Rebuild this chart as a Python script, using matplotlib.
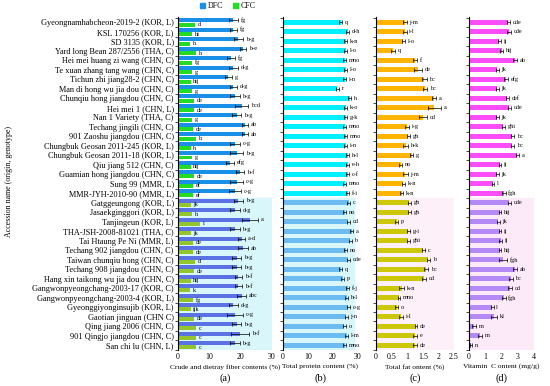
import numpy as np
import matplotlib
matplotlib.use('Agg')
import matplotlib.pyplot as plt
from matplotlib.patches import Patch

plt.rcParams['font.family'] = ['Liberation Serif', 'DejaVu Serif']

names = ['Gyeongnamhabcheon-2019-2 (KOR, L)', 'KSL 170256 (KOR, L)', 'SD 3135 (KOR, L)',
         'Yard long Bean 287/2556 (THA, C)', 'Hei mei huang zi wang (CHN, C)',
         'Te xuan zhang tang wang (CHN, C)', 'Tichun zhi jiang28-2 (CHN, C)',
         'Man di hong wu jia dou (CHN, C)', 'Chunqiu hong jiangdou (CHN, C)', 'Hei mei 1 (CHN, L)',
         'Nan 1 Variety (THA, C)', 'Techang jingili (CHN, C)', '901 Zaoshu jiangdou (CHN, C)',
         'Chungbuk Geosan 2011-245 (KOR, L)', 'Chungbuk Geosan 2011-18 (KOR, L)',
         'Qiu jiang 512 (CHN, C)', 'Guamian hong jiangdou (CHN, C)', 'Sung 99 (MMR, L)',
         'MMR-JYH-2010-90 (MMR, L)', 'Gatggeungong (KOR, L)', 'Jasaekginggori (KOR, L)',
         'Tanjingeun (KOR, L)', 'THA-JSH-2008-81021 (THA, C)', 'Tai Htaung Pe Ni (MMR, L)',
         'Techang 902 jiangdou (CHN, C)', 'Taiwan chunqiu hong (CHN, C)',
         'Techang 908 jiangdou (CHN, C)', 'Hang xin taikong wu jia dou (CHN, C)',
         'Gangwonpyeongchang-2003-17 (KOR, C)', 'Gangwonpyeongchang-2003-4 (KOR, L)',
         'Gyeonggiyonginsujib (KOR, L)', 'Gaotian jinguan (CHN C)', 'Qing jiang 2006 (CHN, C)',
         '901 Qingjo jiangdou (CHN, C)', 'San chi lu (CHN, L)']

dfc = [17.7, 17.7, 19.3, 20.7, 16.9, 17.7, 16.1, 17.7, 18.2, 20.3, 18.7, 21.4, 21.4, 18.2, 18.7,
       16.6, 19.8, 18.7, 18.2, 19.3, 18.2, 23.0, 18.2, 20.3, 20.8, 18.7, 18.7, 19.3, 19.3, 20.3,
       17.7, 18.2, 18.7, 19.8, 18.2]
dfc_err = [1.5, 1.2, 1.5, 1.0, 1.2, 1.5, 1.0, 1.2, 1.5, 2.0, 1.5, 1.0, 1.0, 1.5, 2.0,
           1.2, 1.2, 2.0, 2.0, 1.5, 1.5, 2.5, 1.5, 1.2, 1.5, 1.5, 1.5, 1.2, 1.2, 1.5,
           1.5, 2.5, 1.5, 3.0, 1.5]
dfc_let = ['fg', 'fg', 'b-g', 'b-e', 'fg', 'd-g', 'g', 'd-g', 'b-g', 'bcd', 'b-g', 'ab', 'ab',
           'c-g', 'b-g', 'efg', 'b-f', 'c-g', 'c-g', 'b-g', 'd-g', 'a', 'b-g', 'a-d', 'ab', 'b-g',
           'b-g', 'b-f', 'b-f', 'abc', 'd-g', 'c-g', 'b-g', 'b-f', 'b-g']
cfc = [5.4, 4.4, 3.8, 5.8, 4.4, 4.4, 4.0, 4.4, 5.1, 5.1, 4.4, 4.9, 5.8, 4.0, 4.4, 4.0, 5.1,
       4.7, 4.7, 4.0, 4.4, 7.0, 4.0, 4.9, 4.9, 5.4, 5.1, 4.0, 3.8, 4.7, 4.0, 5.1, 5.8, 5.8, 5.8]
cfc_let = ['d', 'hi', 'h', 'h', 'fg', 'g', 'hij', 'g', 'de', 'de', 'g', 'de', 'h', 'h', 'g',
           'hij', 'de', 'ef', 'ef', 'jk', 'h', 'i', 'jk', 'de', 'de', 'd', 'de', 'hij', 'k', 'fg',
           'ijk', 'de', 'c', 'c', 'c']
protein = [23.1, 25.8, 25.1, 25.1, 24.7, 25.1, 24.7, 21.7, 26.7, 25.1, 25.1, 24.7, 25.1, 25.1,
           25.8, 25.8, 25.8, 24.7, 25.8, 26.3, 24.7, 26.0, 27.4, 26.9, 25.1, 26.0, 23.1, 23.8,
           25.8, 25.5, 26.0, 25.3, 24.4, 25.5, 24.7]
protein_err = [0.6] * 35
protein_let = ['q', 'd-h', 'k-n', 'l-o', 'mno', 'l-o', 'i-n', 'r', 'h', 'k-o', 'g-k', 'mno',
               'mno', 'i-n', 'h-l', 'e-h', 'c-f', 'mno', 'f-i', 'c', 'no', 'cd', 'a', 'b', 'no',
               'cde', 'q', 'p', 'f-j', 'h-l', 'c-g', 'j-n', 'o', 'l-m', 'mno']
fat = [0.93, 0.93, 0.88, 0.55, 1.25, 1.35, 1.54, 1.57, 1.86, 1.87, 1.50, 1.00, 1.04, 0.96,
       1.14, 0.79, 0.93, 0.88, 0.82, 1.07, 1.07, 0.66, 1.04, 1.04, 1.52, 1.68, 1.60, 1.54,
       0.82, 0.74, 0.66, 0.80, 1.28, 1.25, 1.25]
fat_err = [0.05, 0.05, 0.05, 0.06, 0.06, 0.12, 0.08, 0.06, 0.05, 0.20, 0.12, 0.06, 0.05,
           0.08, 0.04, 0.05, 0.08, 0.05, 0.05, 0.05, 0.05, 0.04, 0.05, 0.05, 0.05, 0.05,
           0.07, 0.05, 0.07, 0.04, 0.04, 0.07, 0.04, 0.05, 0.05]
fat_let = ['j-m', 'i-l', 'l-o', 'q', 'f', 'de', 'bc', 'bc', 'a', 'a', 'cd', 'i-g', 'gh', 'h-k',
           'g', 'no', 'j-m', 'k-n', 'k-n', 'gh', 'gh', 'p', 'g-i', 'ghi', 'c', 'b', 'bc', 'cd',
           'k-n', 'mno', 'o', 'i-l', 'de', 'e', 'de']
vitc = [2.42, 2.48, 1.87, 2.01, 2.83, 1.74, 2.28, 1.74, 2.36, 2.48, 1.74, 2.11, 2.67, 2.67,
        2.97, 1.91, 1.74, 1.50, 2.15, 2.48, 1.91, 1.80, 1.91, 1.95, 1.91, 2.11, 2.83, 2.56,
        2.52, 2.15, 1.43, 1.54, 0.31, 0.68, 0.10]
vitc_err = [0.10, 0.12, 0.08, 0.08, 0.12, 0.08, 0.10, 0.08, 0.08, 0.10, 0.08, 0.08, 0.10,
            0.10, 0.10, 0.08, 0.08, 0.06, 0.10, 0.10, 0.08, 0.08, 0.08, 0.08, 0.08, 0.25,
            0.12, 0.12, 0.10, 0.10, 0.08, 0.20, 0.10, 0.12, 0.06]
vitc_let = ['cde', 'cde', 'ij', 'hij', 'ab', 'jk', 'efg', 'jk', 'def', 'cde', 'jk', 'ghi', 'bc',
            'bc', 'a', 'ij', 'jk', 'l', 'fgh', 'cde', 'hij', 'jk', 'ij', 'ij', 'hij', 'fgh', 'ab',
            'bc', 'cd', 'fgh', 'l', 'kl', 'm', 'm', 'n']

n = len(names)
y = np.arange(n)
split = 19  # rows from here on are highlighted
top = y < split

fig = plt.figure(figsize=(5.5, 3.86), dpi=100)
bottom, height = 0.0933, 0.8635
ax_a = fig.add_axes([178 / 550, bottom, 94 / 550, height])
ax_b = fig.add_axes([283 / 550, bottom, 75 / 550, height])
ax_c = fig.add_axes([376 / 550, bottom, 78 / 550, height])
ax_d = fig.add_axes([469 / 550, bottom, 65 / 550, height])

ekw = dict(elinewidth=0.5, capsize=1.2, capthick=0.5, ecolor='black')


def letters(ax, vals, errs, labs, pos):
    for v, e, t, p in zip(vals, errs, labs, pos):
        ax.annotate(t, (v + e, p), xytext=(2, 0), textcoords='offset points',
                    ha='left', va='center', fontsize=4.5)


def style(ax, xmax, ticks, xlabel, tag):
    ax.set_ylim(n - 0.5, -0.6)
    ax.set_xlim(0, xmax)
    ax.set_xticks(ticks)
    ax.tick_params(axis='x', length=0, labelsize=5.7, pad=2)
    ax.set_yticks(np.arange(-0.5, n, 1))
    ax.set_yticklabels([])
    ax.tick_params(axis='y', length=2, width=0.5, direction='out')
    for s in ['top', 'right', 'bottom']:
        ax.spines[s].set_visible(False)
    ax.spines['left'].set_linewidth(0.8)
    ax.set_xlabel(xlabel, fontsize=5.4, labelpad=2)
    ax.text(0.5, -0.085, tag, transform=ax.transAxes, ha='center', va='center', fontsize=7.5)


# (a) crude and dietary fiber
ax_a.axhspan(split - 0.5, n - 0.5, color='#d9f7fa', zorder=0)
dc = np.where(top, '#1a8fe8', '#5a72e4')
cc = np.where(top, '#22dd22', '#93c62c')
ax_a.barh(y - 0.23, dfc, height=0.42, color=dc, xerr=dfc_err, error_kw=ekw, zorder=2)
ax_a.barh(y + 0.23, cfc, height=0.42, color=cc, zorder=2)
letters(ax_a, dfc, dfc_err, dfc_let, y - 0.23)
letters(ax_a, cfc, [0] * n, cfc_let, y + 0.23)
style(ax_a, 30, [0, 10, 20, 30], 'Crude and dietray fiber contents (%)', '(a)')
ax_a.set_yticks(y, minor=True)
ax_a.set_yticklabels(names, minor=True, fontsize=5.95)
ax_a.tick_params(axis='y', which='minor', length=0, pad=3)

# (b) protein
ax_b.axhspan(split - 0.5, n - 0.5, xmax=0.95, color='#d9f7fa', zorder=0)
ax_b.barh(y, protein, height=0.5, color=np.where(top, '#00f0ff', '#6cbcf2'),
          xerr=protein_err, error_kw=ekw, zorder=2)
letters(ax_b, protein, protein_err, protein_let, y)
style(ax_b, 30, [0, 10, 20, 30], 'Total protein content (%)', '(b)')

# (c) fat
ax_c.axhspan(split - 0.5, n - 0.5, color='#fdf0f8', zorder=0)
ax_c.barh(y, fat, height=0.5, color=np.where(top, '#ffb400', '#cdc70a'),
          xerr=fat_err, error_kw=ekw, zorder=2)
letters(ax_c, fat, fat_err, fat_let, y)
style(ax_c, 2.5, [0, 0.5, 1, 1.5, 2, 2.5], 'Total fat ontent (%)', '(c)')
ax_c.set_xticklabels(['0', '0.5', '1', '1.5', '2', '2.5'])

# (d) vitamin C
ax_d.axhspan(split - 0.5, n - 0.5, color='#fdeaf8', zorder=0)
ax_d.barh(y, vitc, height=0.5, color=np.where(top, '#fb4ef8', '#b68af6'),
          xerr=vitc_err, error_kw=ekw, zorder=2)
letters(ax_d, vitc, vitc_err, vitc_let, y)
style(ax_d, 4, [0, 1, 2, 3, 4], 'Vitamin  C ontent (mg/g)', '(d)')

fig.legend(handles=[Patch(color='#1a8fe8', label='DFC'), Patch(color='#22dd22', label='CFC')],
           loc='center', bbox_to_anchor=(228 / 550, 1 - 6 / 386), ncol=2, frameon=False,
           fontsize=5.7, handlelength=0.6, handleheight=0.6, columnspacing=1.2, handletextpad=0.4)
fig.text(9 / 550, 0.53, 'Accession name (origin, genotype)', rotation=90,
         ha='center', va='center', fontsize=5.7)

fig.savefig('out.png', dpi=100)
